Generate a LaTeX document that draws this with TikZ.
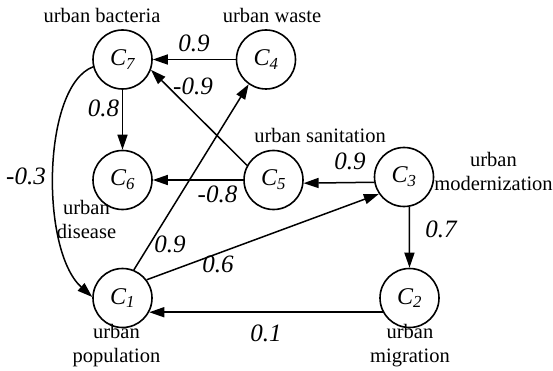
\documentclass[tikz,border=0pt]{standalone}
\usepackage{fontspec}
\setmainfont{Liberation Serif}
\usetikzlibrary{arrows.meta}
\begin{document}
\begin{tikzpicture}[x=1pt,y=-1pt,
  concept/.style={circle, draw, line width=1.6pt, minimum size=59pt, inner sep=0pt, font=\fontsize{24}{28}\selectfont\itshape},
  caption/.style={font=\fontsize{20.5}{24}\selectfont, align=center, inner sep=0pt, anchor=base},
  weight/.style={font=\fontsize{25}{28}\selectfont\itshape, inner sep=0pt, anchor=base},
  edge/.style={line width=1.5pt, -{Triangle[length=15pt,width=10pt]}}
]
\useasboundingbox (0,0) rectangle (553,371);
% concepts
\node[concept] (C7) at (122.5,59.5) {C\textsubscript{7}};
\node[concept] (C4) at (266,59.5) {C\textsubscript{4}};
\node[concept] (C6) at (122.5,180) {C\textsubscript{6}};
\node[concept] (C5) at (273.5,180) {C\textsubscript{5}};
\node[concept] (C3) at (404,177) {C\textsubscript{3}};
\node[concept] (C1) at (122.5,298) {C\textsubscript{1}};
\node[concept] (C2) at (409.5,298) {C\textsubscript{2}};
% captions (base = baseline of the last line)
\node[caption] (t7) at (102,23) {urban bacteria};
\node[caption] (t4) at (272,23) {urban waste};
\node[caption] (t5) at (320,143) {urban sanitation};
\node[caption] (t3) at (493.5,190) {urban\\modernization};
\node[caption] (t6) at (86.5,238) {urban\\disease};
\node[caption] (t1) at (116.5,362) {urban\\population};
\node[caption] (t2) at (410,362) {urban\\migration};
% connectors
\draw[edge] (C4) -- (C7);
\draw[edge] (C5.151) -- (C7.340);
\draw[edge] (C7) -- (C6);
\draw[edge] (C5) -- (C6);
\draw[edge] (C3.190) -- (C5.354);
\draw[edge] (C3.280) -- (C2.north);
\draw[edge] (C1.37) -- (C3.214);
\draw[edge] (C1.68) -- (C4.235);
\draw[edge] (C2.208) -- (C1.332);
\draw[edge] (C7.194) .. controls (42,86) and (40,250) .. (C1.178);
% weights
\node[weight] (w47) at (194,52) {0.9};
\node[weight] (w57) at (193,95) {-0.9};
\node[weight] (w76) at (103.5,117) {0.8};
\node[weight] (w71) at (26,185) {-0.3};
\node[weight] (w56) at (217.5,202) {-0.8};
\node[weight] (w35) at (350,170) {0.9};
\node[weight] (w32) at (441,237) {0.7};
\node[weight] (w14) at (170,252) {0.9};
\node[weight] (w13) at (218,272) {0.6};
\node[weight] (w21) at (266,341) {0.1};
\end{tikzpicture}
\end{document}
